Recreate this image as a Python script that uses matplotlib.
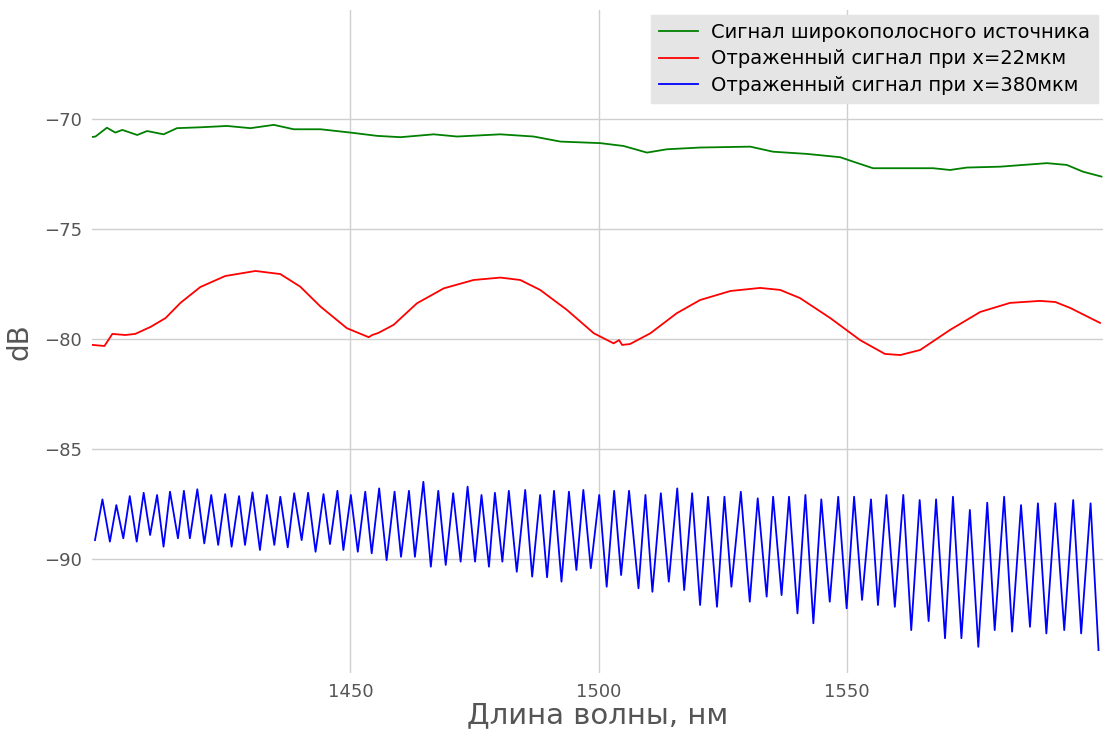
import numpy as np
import matplotlib
matplotlib.use('Agg')
import matplotlib.pyplot as plt

# green: broadband source
green_nm = [1398.1, 1398.7, 1401.0, 1402.7, 1404.1, 1407.1, 1409.1, 1412.4, 1415.1, 1419.8,
            1425.2, 1429.9, 1434.6, 1438.6, 1444.0, 1450.0, 1455.4, 1460.1, 1466.8, 1471.5,
            1480.2, 1486.9, 1492.3, 1500.3, 1505.0, 1509.7, 1513.7, 1520.4, 1530.5, 1535.1,
            1541.9, 1548.6, 1551.2, 1555.2, 1560.7, 1567.3, 1570.7, 1574.1, 1580.8, 1590.2,
            1594.2, 1597.5, 1601.2]
green_db = [-70.82, -70.80, -70.40, -70.62, -70.50, -70.73, -70.55, -70.70, -70.42, -70.38,
            -70.32, -70.42, -70.27, -70.47, -70.47, -70.62, -70.77, -70.83, -70.70, -70.80,
            -70.70, -70.80, -71.03, -71.10, -71.23, -71.53, -71.38, -71.30, -71.26, -71.49,
            -71.59, -71.74, -71.94, -72.24, -72.24, -72.24, -72.32, -72.21, -72.17, -72.01,
            -72.09, -72.40, -72.62]

# red: reflected, x=22 um
red_nm = [1398.1, 1400.5, 1402.1, 1404.7, 1406.7, 1409.8, 1412.8, 1415.8, 1419.8, 1424.8,
          1430.9, 1435.9, 1439.9, 1444.0, 1449.3, 1453.7, 1454.4, 1455.6, 1458.7, 1463.4,
          1468.8, 1474.8, 1480.2, 1484.2, 1488.2, 1493.6, 1499.0, 1503.0, 1504.1, 1504.7,
          1506.3, 1510.4, 1515.7, 1520.4, 1526.5, 1532.5, 1536.5, 1540.5, 1546.6, 1552.6,
          1557.6, 1560.7, 1564.7, 1570.7, 1576.8, 1582.8, 1588.8, 1591.9, 1594.9, 1600.9]
red_db = [-80.27, -80.32, -79.77, -79.82, -79.77, -79.45, -79.05, -78.36, -77.64, -77.14,
          -76.91, -77.05, -77.62, -78.53, -79.51, -79.92, -79.82, -79.73, -79.36, -78.38,
          -77.70, -77.32, -77.21, -77.32, -77.77, -78.68, -79.74, -80.20, -80.05, -80.27,
          -80.23, -79.74, -78.83, -78.23, -77.82, -77.68, -77.77, -78.14, -79.05, -80.05,
          -80.68, -80.73, -80.50, -79.59, -78.77, -78.36, -78.27, -78.32, -78.59, -79.27]

# blue: reflected, x=380 um (fringe maxima and minima)
blue_peak_nm = [1400.1, 1402.9, 1405.6, 1408.4, 1411.1, 1413.7, 1416.5, 1419.2, 1422.0, 1424.8,
                1427.6, 1430.3, 1433.2, 1435.9, 1438.7, 1441.5, 1444.6, 1447.4, 1450.1, 1453.0,
                1455.8, 1458.9, 1461.8, 1464.7, 1467.7, 1470.7, 1473.6, 1476.4, 1479.1, 1481.9,
                1485.2, 1488.2, 1491.0, 1494.0, 1496.9, 1500.1, 1503.1, 1506.1, 1509.4, 1512.5,
                1515.8, 1518.8, 1522.0, 1525.3, 1528.6, 1532.0, 1535.1, 1538.3, 1541.6, 1544.8,
                1548.2, 1551.4, 1554.8, 1557.9, 1561.3, 1564.6, 1567.9, 1571.3, 1574.7, 1578.2,
                1581.6, 1585.0, 1588.4, 1591.9, 1595.5, 1599.0]
blue_peak_db = [-87.29, -87.55, -87.14, -86.99, -87.09, -86.94, -86.90, -86.83, -87.09, -87.05,
                -87.14, -86.97, -87.09, -87.17, -87.01, -86.99, -87.05, -86.90, -87.09, -86.94,
                -86.79, -86.94, -86.90, -86.49, -86.90, -87.01, -86.71, -87.09, -86.99, -86.90,
                -86.86, -87.09, -86.90, -86.94, -86.86, -87.09, -86.90, -86.90, -87.09, -87.01,
                -86.79, -87.01, -87.17, -87.17, -86.94, -87.24, -87.17, -87.17, -87.09, -87.29,
                -87.17, -87.17, -87.29, -87.09, -87.09, -87.32, -87.29, -87.17, -87.77, -87.44,
                -87.17, -87.55, -87.47, -87.47, -87.32, -87.47]
blue_trough_nm = [1398.6, 1401.6, 1404.3, 1407.0, 1409.7, 1412.4, 1415.3, 1417.7, 1420.6, 1423.4,
                  1426.1, 1428.8, 1431.8, 1434.7, 1437.4, 1440.2, 1443.0, 1445.9, 1448.6, 1451.5,
                  1454.3, 1457.3, 1460.2, 1463.0, 1466.2, 1469.2, 1472.2, 1475.1, 1477.9, 1480.6,
                  1483.5, 1486.6, 1489.6, 1492.5, 1495.5, 1498.4, 1501.6, 1504.5, 1508.0, 1510.8,
                  1514.1, 1517.2, 1520.4, 1523.8, 1526.7, 1530.4, 1533.8, 1536.8, 1540.0, 1543.2,
                  1546.5, 1549.9, 1553.0, 1556.2, 1559.6, 1562.9, 1566.4, 1569.7, 1573.0, 1576.4,
                  1579.7, 1583.2, 1586.8, 1590.1, 1593.7, 1597.1, 1600.6]
blue_trough_db = [-89.14, -89.21, -89.06, -89.21, -88.91, -89.44, -89.06, -89.06, -89.29, -89.36,
                  -89.44, -89.36, -89.59, -89.36, -89.47, -89.14, -89.67, -89.32, -89.59, -89.67,
                  -89.74, -90.05, -89.90, -89.90, -90.35, -90.27, -90.12, -90.12, -90.35, -90.12,
                  -90.58, -90.80, -90.83, -91.03, -90.50, -90.42, -91.26, -90.73, -91.33, -91.49,
                  -91.03, -91.41, -92.09, -92.17, -91.26, -91.94, -91.71, -91.64, -92.47, -92.92,
                  -91.94, -92.24, -91.86, -92.09, -92.17, -93.23, -92.82, -93.60, -93.60, -93.99,
                  -93.23, -93.30, -93.08, -93.38, -93.23, -93.38, -94.14]

labels = ['Сигнал широкополосного источника',
          'Отраженный сигнал при x=22мкм',
          'Отраженный сигнал при x=380мкм']

# merge maxima and minima into one trace
blue_nm = np.array(blue_peak_nm + blue_trough_nm)
blue_db = np.array(blue_peak_db + blue_trough_db)
order = np.argsort(blue_nm)
blue_nm, blue_db = blue_nm[order], blue_db[order]

fig = plt.figure(figsize=(11.03, 7.31), dpi=100)
ax = fig.add_axes([92 / 1103, 1 - 673 / 731, 1 - 92 / 1103, (673 - 10) / 731])

ax.plot(green_nm, green_db, color='g', lw=1.3, label=labels[0])
ax.plot(red_nm, red_db, color='r', lw=1.3, label=labels[1])
ax.plot(blue_nm, blue_db, color='b', lw=1.3, label=labels[2], solid_joinstyle='round')

ax.set_xlim(1398, 1601.5)
ax.set_ylim(-95.18, -65.05)
ax.set_xticks([1450, 1500, 1550])
ax.set_yticks([-90, -85, -80, -75, -70])
ax.grid(True, color='#cfcfcf', lw=1)
ax.set_axisbelow(True)
for s in ax.spines.values():
    s.set_visible(False)
ax.tick_params(length=0, labelsize=13, colors='#555555', pad=7)

ax.set_xlabel('Длина волны, нм', fontsize=21, color='#555555', labelpad=0)
ax.set_ylabel('dB', fontsize=20, color='#555555', labelpad=8)

leg = ax.legend(loc='upper right', fontsize=14, frameon=True, fancybox=False,
                borderaxespad=0.25, handlelength=2.0, handletextpad=0.7, labelspacing=0.4)
leg.get_frame().set_facecolor('#e5e5e5')
leg.get_frame().set_edgecolor('#e5e5e5')
leg.get_frame().set_alpha(1)

fig.savefig('out.png', dpi=100)
